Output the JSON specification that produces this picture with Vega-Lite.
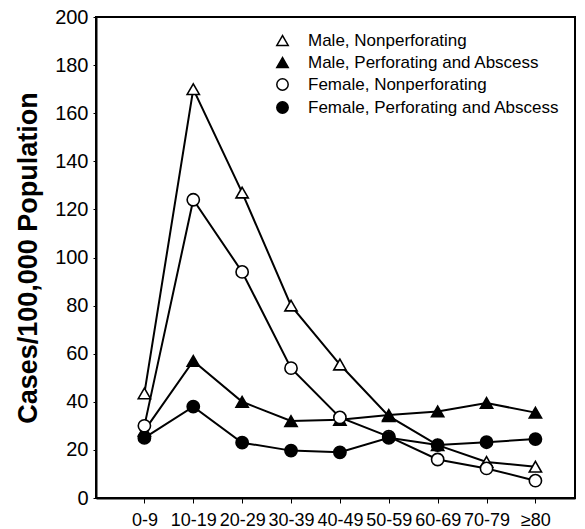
{
  "$schema": "https://vega.github.io/schema/vega-lite/v6.json",
  "autosize": "none",
  "padding": {"left": 96, "top": 17, "right": 10, "bottom": 31},
  "width": 479,
  "height": 481,
  "config": {
    "view": {"stroke": "black", "strokeWidth": 2},
    "font": "Liberation Sans"
  },
  "data": {
    "values": [
      {"age": "0-9", "series": "Male, Nonperforating", "value": 43.5},
      {"age": "10-19", "series": "Male, Nonperforating", "value": 170},
      {"age": "20-29", "series": "Male, Nonperforating", "value": 127},
      {"age": "30-39", "series": "Male, Nonperforating", "value": 80},
      {"age": "40-49", "series": "Male, Nonperforating", "value": 55.5},
      {"age": "50-59", "series": "Male, Nonperforating", "value": 34},
      {"age": "60-69", "series": "Male, Nonperforating", "value": 22},
      {"age": "70-79", "series": "Male, Nonperforating", "value": 15},
      {"age": "≥80", "series": "Male, Nonperforating", "value": 13},
      {"age": "0-9", "series": "Male, Perforating and Abscess", "value": 28},
      {"age": "10-19", "series": "Male, Perforating and Abscess", "value": 57},
      {"age": "20-29", "series": "Male, Perforating and Abscess", "value": 40},
      {"age": "30-39", "series": "Male, Perforating and Abscess", "value": 32},
      {"age": "40-49", "series": "Male, Perforating and Abscess", "value": 32.5},
      {"age": "50-59", "series": "Male, Perforating and Abscess", "value": 34.5},
      {"age": "60-69", "series": "Male, Perforating and Abscess", "value": 36},
      {"age": "70-79", "series": "Male, Perforating and Abscess", "value": 39.5},
      {"age": "≥80", "series": "Male, Perforating and Abscess", "value": 35.5},
      {"age": "0-9", "series": "Female, Nonperforating", "value": 30},
      {"age": "10-19", "series": "Female, Nonperforating", "value": 124},
      {"age": "20-29", "series": "Female, Nonperforating", "value": 94},
      {"age": "30-39", "series": "Female, Nonperforating", "value": 54},
      {"age": "40-49", "series": "Female, Nonperforating", "value": 33.5},
      {"age": "50-59", "series": "Female, Nonperforating", "value": 25.5},
      {"age": "60-69", "series": "Female, Nonperforating", "value": 16},
      {"age": "70-79", "series": "Female, Nonperforating", "value": 12.3},
      {"age": "≥80", "series": "Female, Nonperforating", "value": 7.2},
      {"age": "0-9", "series": "Female, Perforating and Abscess", "value": 25},
      {"age": "10-19", "series": "Female, Perforating and Abscess", "value": 38},
      {"age": "20-29", "series": "Female, Perforating and Abscess", "value": 23},
      {"age": "30-39", "series": "Female, Perforating and Abscess", "value": 19.7},
      {"age": "40-49", "series": "Female, Perforating and Abscess", "value": 19},
      {"age": "50-59", "series": "Female, Perforating and Abscess", "value": 25},
      {"age": "60-69", "series": "Female, Perforating and Abscess", "value": 22},
      {"age": "70-79", "series": "Female, Perforating and Abscess", "value": 23.2},
      {"age": "≥80", "series": "Female, Perforating and Abscess", "value": 24.5}
    ]
  },
  "encoding": {
    "x": {
      "field": "age",
      "type": "ordinal",
      "scale": {"type": "point", "domain": ["0-9","10-19","20-29","30-39","40-49","50-59","60-69","70-79","≥80"], "padding": 0.9, "align": 0.55},
      "axis": {
        "title": null,
        "labelAngle": 0,
        "labelFontSize": 18,
        "labelFontWeight": "normal",
        "labelColor": "black",
        "labelPadding": 8,
        "tickSize": 5,
        "tickColor": "black",
        "domainColor": "black",
        "domainWidth": 2,
        "grid": false,
        "labelOverlap": false,
        "labelBound": false
      }
    },
    "y": {
      "field": "value",
      "type": "quantitative",
      "scale": {"domain": [0, 200], "nice": false},
      "axis": {
        "title": "Cases/100,000 Population",
        "titleFontSize": 27,
        "titleFontWeight": "bold",
        "titleColor": "black",
        "titlePadding": 12,
        "values": [0,20,40,60,80,100,120,140,160,180,200],
        "labelFontSize": 20,
        "labelColor": "black",
        "labelPadding": 5,
        "tickSize": 3,
        "tickColor": "black",
        "domainColor": "black",
        "domainWidth": 2,
        "grid": false
      }
    }
  },
  "layer": [
    {
      "mark": {"type": "line", "color": "black", "strokeWidth": 2},
      "encoding": {"detail": {"field": "series", "type": "nominal"}}
    },
    {
      "mark": {"type": "point", "filled": false, "strokeWidth": 1.6, "size": 150, "opacity": 1},
      "encoding": {
        "stroke": {"value": "black"},
        "shape": {
          "field": "series",
          "type": "nominal",
          "scale": {
            "domain": ["Male, Nonperforating", "Male, Perforating and Abscess", "Female, Nonperforating", "Female, Perforating and Abscess"],
            "range": ["triangle-up", "triangle-up", "circle", "circle"]
          },
          "legend": {
            "title": null,
            "orient": "none",
            "legendX": 178,
            "legendY": 15,
            "labelFontSize": 17,
            "labelColor": "black",
            "labelOffset": 17,
            "labelLimit": 400,
            "rowPadding": 4,
            "symbolSize": 130,
            "encode": {"symbols": {"update": {"stroke": {"value": "black"}, "strokeWidth": {"value": 1.6}}}}
          }
        },
        "fill": {
          "field": "series",
          "type": "nominal",
          "scale": {
            "domain": ["Male, Nonperforating", "Male, Perforating and Abscess", "Female, Nonperforating", "Female, Perforating and Abscess"],
            "range": ["white", "black", "white", "black"]
          },
          "legend": {
            "title": null,
            "orient": "none",
            "legendX": 178,
            "legendY": 15,
            "labelFontSize": 17,
            "labelColor": "black",
            "labelOffset": 17,
            "labelLimit": 400,
            "rowPadding": 4,
            "symbolSize": 130,
            "encode": {"symbols": {"update": {"stroke": {"value": "black"}, "strokeWidth": {"value": 1.6}}}}
          }
        }
      }
    }
  ]
}
